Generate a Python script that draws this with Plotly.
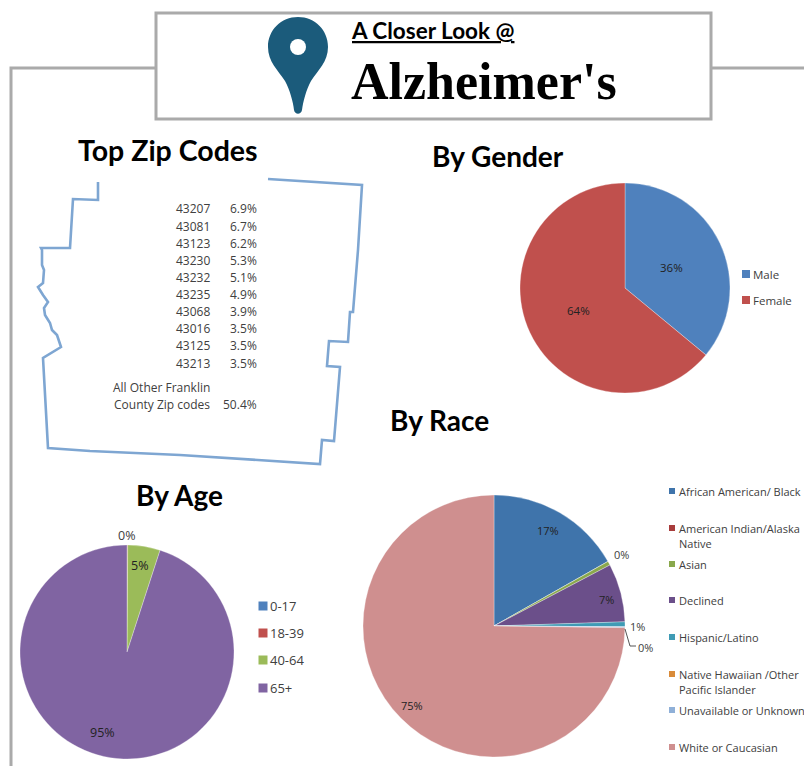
import plotly.graph_objects as go

# ---------- data ----------
zip_codes = ["43207", "43081", "43123", "43230", "43232", "43235", "43068", "43016", "43125", "43213"]
zip_shares = [6.9, 6.7, 6.2, 5.3, 5.1, 4.9, 3.9, 3.5, 3.5, 3.5]
other_share = 50.4

gender_labels = ["Male", "Female"]
gender_values = [36, 64]
gender_colors = ["#4f81bd", "#c0504d"]

age_labels = ["0-17", "18-39", "40-64", "65+"]
age_values = [0.0, 0.1, 4.9, 95.0]
age_colors = ["#4f81bd", "#c0504d", "#9bbb59", "#8064a2"]

race_labels = ["African American/ Black", "American Indian/Alaska<br>Native", "Asian", "Declined",
               "Hispanic/Latino", "Native Hawaiian /Other<br>Pacific Islander", "Unavailable or Unknown",
               "White or Caucasian"]
race_values = [16.8, 0.0, 0.49, 7.2, 0.61, 0.0, 0.1, 74.8]
race_colors = ["#3f74ab", "#a83c3c", "#8aa84c", "#6b4f8a", "#3f9bb5", "#d98b3a", "#8fb0d8", "#cf8f8f"]

county_x = [98, 98, 73, 70, 41, 42, 42, 44, 43, 38, 43, 48, 44, 45, 50, 52, 57, 61, 43, 48, 90, 180, 320,
            322, 334, 340, 327, 329, 348, 350, 353, 358, 362, 268]
county_y = [182, 200, 199, 248, 248, 250, 265, 270, 283, 287, 295, 302, 308, 315, 323, 330, 335, 347, 358,
            448, 451, 455, 464, 440, 441, 367, 366, 341, 342, 312, 312, 250, 185, 179]

# ---------- layout helpers ----------
W, H = 804, 766
GRAY = "#aaaaaa"
TXT = "#404040"
BODY = "Open Sans"
HEAD = "Lato"


def dom(cx, cy, r):
    return dict(x=[(cx - r) / W, (cx + r) / W], y=[1 - (cy + r) / H, 1 - (cy - r) / H])


fig = go.Figure()

fig.add_trace(go.Scatter(x=county_x, y=county_y, mode="lines", hoverinfo="skip",
                         line=dict(color="#7ea6d2", width=2.6), showlegend=False))


def add_pie(labels, values, colors, cx, cy, r):
    fig.add_trace(go.Pie(labels=labels, values=values, sort=False, direction="clockwise", rotation=0,
                         marker=dict(colors=colors, line=dict(color="rgba(255,255,255,0.6)", width=0.5)),
                         textinfo="none", domain=dom(cx, cy, r), showlegend=False))


add_pie(gender_labels, gender_values, gender_colors, 625, 288, 105)
add_pie(age_labels, age_values, age_colors, 127, 652, 107)
add_pie(race_labels, race_values, race_colors, 494, 626, 131)

anns = []


def text(x, y, s, size=12, color=TXT, family=BODY, anchor="left"):
    nudge = {"left": -2, "right": 2, "center": 0}[anchor]
    anns.append(dict(x=x + nudge, y=y, xref="x", yref="y", text=s, showarrow=False, xanchor=anchor, yanchor="middle",
                     align=anchor, font=dict(size=size, color=color, family=family)))


def pct(v):
    return f"{round(v)}%"


# headings
text(351, 30, "<u><b>A Closer Look @</b></u>", 22.5, "#000000", HEAD)
text(351, 81, "<b>Alzheimer's</b>", 52, "#000000", "Liberation Serif")
text(168, 150, "<b>Top Zip Codes</b>", 28.5, "#000000", HEAD, "center")
text(498, 156, "<b>By Gender</b>", 28, "#000000", HEAD, "center")
text(439, 420, "<b>By Race</b>", 28, "#000000", HEAD, "center")
text(179, 495, "<b>By Age</b>", 28, "#000000", HEAD, "center")

# zip table
zip_rows = [208, 226, 243, 260, 277, 294, 311, 328, 345, 363]
for z, s, y in zip(zip_codes, zip_shares, zip_rows):
    text(210, y, z, 12, TXT, BODY, "right")
    text(257, y, f"{s}%", 12, TXT, BODY, "right")
text(210, 387, "All Other Franklin", 12, TXT, BODY, "right")
text(210, 404, "County Zip codes", 12, TXT, BODY, "right")
text(257, 404, f"{other_share}%", 12, TXT, BODY, "right")

# pie value labels
text(671, 267, pct(gender_values[0]), 11.5, "#222222", BODY, "center")
text(578, 310, pct(gender_values[1]), 11.5, "#222222", BODY, "center")
text(126, 535, pct(age_values[1]), 12.5, TXT, BODY, "center")
text(139, 565, pct(age_values[2]), 12.5, "#222222", BODY, "center")
text(102, 732, pct(age_values[3]), 12.5, "#222222", BODY, "center")
text(548, 530, pct(race_values[0]), 11, "#222222", BODY, "center")
text(621, 554, pct(race_values[2]), 11, TXT, BODY, "center")
text(606, 599, pct(race_values[3]), 11, "#222222", BODY, "center")
text(637, 626, pct(race_values[4]), 11, TXT, BODY, "center")
text(645, 647, pct(race_values[6]), 11, TXT, BODY, "center")
text(412, 705, pct(race_values[7]), 11, "#222222", BODY, "center")

# legends
shapes = []


def swatch(x, y, size, color):
    shapes.append(dict(type="rect", xref="x", yref="y", x0=x - size / 2, x1=x + size / 2, y0=y - size / 2,
                       y1=y + size / 2, fillcolor=color, line=dict(width=0)))


for lab, col, y in zip(gender_labels, gender_colors, [274, 300]):
    swatch(746, y, 8, col)
    text(753, y, lab, 11.5)
for lab, col, y in zip(age_labels, age_colors, [606, 633, 660, 688]):
    swatch(263, y, 9, col)
    text(270, y, lab, 13)
for lab, col, y in zip(race_labels, race_colors, [491, 528, 564, 600, 637, 674, 710, 747]):
    swatch(672, y, 6, col)
    if "<br>" in lab:
        first, second = lab.split("<br>")
        text(679, y, first, 11)
        text(679, y + 15, second, 11)
    else:
        text(679, y, lab, 11)

# frame and header box
frame = dict(color=GRAY, width=3)
shapes += [
    dict(type="path", xref="x", yref="y", path="M 11 766 L 11 68 L 156 68", line=frame),
    dict(type="line", xref="x", yref="y", x0=711, x1=804, y0=68, y1=68, line=frame),
    dict(type="rect", xref="x", yref="y", x0=156, x1=711, y0=13, y1=119, line=frame, fillcolor="white", layer="below"),
    # map pin
    dict(type="path", xref="x", yref="y", fillcolor="#1b5b7b", line=dict(width=0),
         path="M 298 17 C 281 17 268 30 268 47 C 268 62 278 70 285 81 C 290 90 293 102 294 110 "
              "C 295 115 301 115 302 110 C 303 102 306 90 311 81 C 318 70 328 62 328 47 C 328 30 315 17 298 17 Z"),
    dict(type="circle", xref="x", yref="y", x0=290, x1=306, y0=39, y1=55, fillcolor="white", line=dict(width=0)),
    # leader for the smallest race label
    dict(type="path", xref="x", yref="y", path="M 625 629 L 630 646 L 636 646", line=dict(color="#555555", width=1)),
]

fig.update_layout(
    width=W, height=H, margin=dict(l=0, r=0, t=0, b=0), paper_bgcolor="white", plot_bgcolor="white",
    xaxis=dict(range=[0, W], visible=False, fixedrange=True, domain=[0, 1]),
    yaxis=dict(range=[H, 0], visible=False, fixedrange=True, domain=[0, 1]),
    annotations=anns, shapes=shapes, showlegend=False,
)

fig.write_html("out.html", config=dict(displayModeBar=False),
               post_script="document.body.style.margin='0';document.body.style.overflow='hidden';")
